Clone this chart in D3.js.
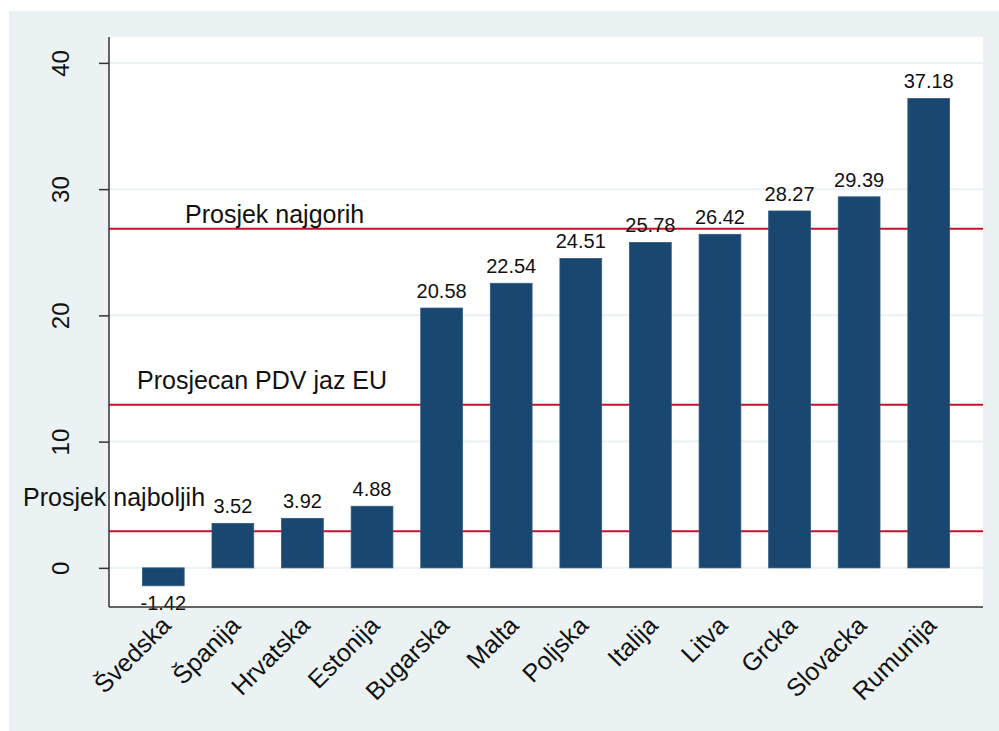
<!DOCTYPE html>
<html>
<head>
<meta charset="utf-8">
<script src="https://cdn.jsdelivr.net/npm/d3@7"></script>
<style>
  body { margin: 0; background: #fff; }
  svg { display: block; font-family: "Liberation Sans", Arial, sans-serif; }
</style>
</head>
<body>
<div id="chart"></div>
<script>
const countries = ['Švedska', 'Španija', 'Hrvatska', 'Estonija', 'Bugarska', 'Malta',
  'Poljska', 'Italija', 'Litva', 'Grcka', 'Slovacka', 'Rumunija'];
const gaps = [-1.42, 3.52, 3.92, 4.88, 20.58, 22.54, 24.51, 25.78, 26.42, 28.27, 29.39, 37.18];
const yTicks = [0, 10, 20, 30, 40];
const refNames = ['Prosjek najgorih', 'Prosjecan PDV jaz EU', 'Prosjek najboljih'];
const refValues = [26.87, 12.93, 2.9];
const refLabelY = [27.34, 14.13, 4.93];

const config = { width: 999, height: 731, left: 109, right: 983, top: 37, bottom: 607 };

const svg = d3.select('#chart').append('svg')
  .attr('width', config.width).attr('height', config.height);

// outer panel + plot region
svg.append('rect').attr('x', 9).attr('y', 11)
  .attr('width', config.width - 9).attr('height', config.height - 11)
  .attr('fill', '#eaf2f3');
svg.append('rect').attr('x', config.left).attr('y', config.top)
  .attr('width', config.right - config.left).attr('height', config.bottom - config.top)
  .attr('fill', '#fff');

const x = d3.scaleBand()
  .domain(countries)
  .range([config.left, config.right])
  .paddingInner(0.4)
  .paddingOuter(0.48);

const y = d3.scaleLinear()
  .domain([-3.1, 42.05])
  .range([config.bottom, config.top]);

// gridlines
svg.append('g').selectAll('line')
  .data(yTicks)
  .enter().append('line')
  .attr('x1', config.left).attr('x2', config.right)
  .attr('y1', d => y(d)).attr('y2', d => y(d))
  .attr('stroke', '#eaf2f3').attr('stroke-width', 2);

// reference lines
svg.append('g').selectAll('line')
  .data(refValues)
  .enter().append('line')
  .attr('x1', config.left).attr('x2', config.right)
  .attr('y1', d => y(d)).attr('y2', d => y(d))
  .attr('stroke', '#c8102e').attr('stroke-width', 2);

const refX = [185, 137, 23];
svg.append('g').selectAll('text')
  .data(refNames)
  .enter().append('text')
  .attr('x', (d, i) => refX[i])
  .attr('y', (d, i) => y(refLabelY[i]))
  .attr('font-size', 25)
  .attr('fill', '#111')
  .text(d => d);

// bars
svg.append('g').selectAll('rect')
  .data(gaps)
  .enter().append('rect')
  .attr('x', (d, i) => x(countries[i]))
  .attr('width', x.bandwidth())
  .attr('y', d => y(Math.max(0, d)))
  .attr('height', d => Math.abs(y(d) - y(0)))
  .attr('fill', '#1a476f')
  .attr('stroke', '#2d5a80').attr('stroke-width', 0.8);

// value labels
svg.append('g').selectAll('text')
  .data(gaps)
  .enter().append('text')
  .attr('x', (d, i) => x(countries[i]) + x.bandwidth() / 2)
  .attr('y', d => d >= 0 ? y(d) - 10 : y(d) + 24)
  .attr('text-anchor', 'middle')
  .attr('font-size', 20)
  .attr('fill', '#111')
  .text(d => d.toFixed(2));

// y axis
const yAxis = svg.append('g')
  .attr('transform', 'translate(' + config.left + ',0)')
  .call(d3.axisLeft(y).tickValues(yTicks).tickSize(10).tickSizeOuter(0));
yAxis.select('.domain').remove();
yAxis.selectAll('.tick line').attr('stroke', '#333').attr('stroke-width', 1.5);
yAxis.selectAll('.tick text')
  .attr('font-size', 24)
  .attr('fill', '#111')
  .attr('font-family', '"Liberation Sans", Arial, sans-serif')
  .attr('x', null).attr('dy', null)
  .attr('text-anchor', 'middle')
  .attr('transform', 'translate(-40,0) rotate(-90)');

svg.append('line')
  .attr('x1', config.left).attr('x2', config.left)
  .attr('y1', config.top).attr('y2', config.bottom)
  .attr('stroke', '#333').attr('stroke-width', 1.5);

// x axis
const xAxis = svg.append('g')
  .attr('transform', 'translate(0,' + config.bottom + ')')
  .call(d3.axisBottom(x).tickSize(0).tickSizeOuter(0));
xAxis.select('.domain').remove();
xAxis.selectAll('.tick text')
  .attr('font-size', 25)
  .attr('fill', '#111')
  .attr('font-family', '"Liberation Sans", Arial, sans-serif')
  .attr('y', null).attr('dy', null)
  .attr('text-anchor', 'end')
  .attr('transform', 'translate(9,20) rotate(-45)');

svg.append('line')
  .attr('x1', config.left).attr('x2', config.right)
  .attr('y1', config.bottom).attr('y2', config.bottom)
  .attr('stroke', '#333').attr('stroke-width', 1.5);
</script>
</body>
</html>
